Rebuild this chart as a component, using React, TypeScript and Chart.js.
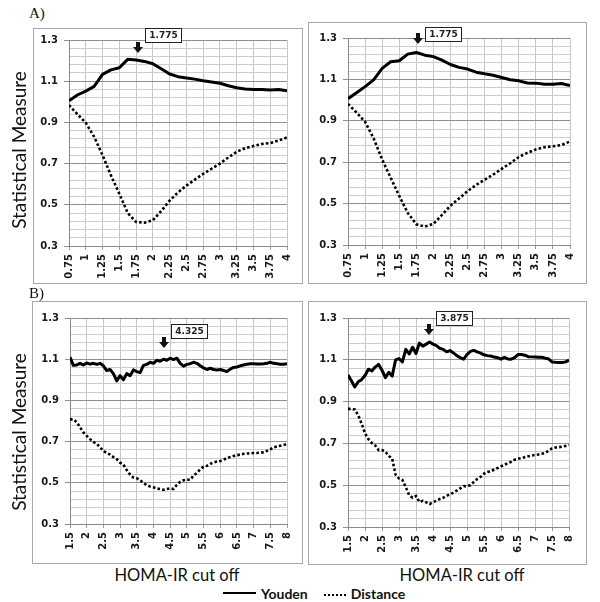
import React, { useEffect, useRef } from "react";
import { Chart, registerables } from "chart.js";

Chart.register(...registerables);

// ---------------- data ----------------
const cutoffsA = [0.75, 0.875, 1.0, 1.125, 1.25, 1.375, 1.5, 1.625, 1.75, 1.875, 2.0, 2.125, 2.25, 2.375, 2.5, 2.625, 2.75, 2.875, 3.0, 3.125, 3.25, 3.375, 3.5, 3.625, 3.75, 3.875, 4.0];
const youdenA1 = [1.005, 1.033, 1.052, 1.075, 1.133, 1.155, 1.165, 1.206, 1.203, 1.196, 1.185, 1.16, 1.135, 1.122, 1.116, 1.11, 1.102, 1.096, 1.09, 1.078, 1.068, 1.062, 1.06, 1.06, 1.057, 1.06, 1.054];
const distanceA1 = [0.984, 0.94, 0.898, 0.83, 0.741, 0.643, 0.554, 0.46, 0.417, 0.413, 0.425, 0.47, 0.52, 0.56, 0.593, 0.622, 0.65, 0.675, 0.7, 0.73, 0.757, 0.775, 0.785, 0.795, 0.8, 0.812, 0.827];
const youdenA2 = [1.007, 1.036, 1.065, 1.098, 1.153, 1.185, 1.19, 1.222, 1.23, 1.217, 1.21, 1.193, 1.172, 1.158, 1.15, 1.135, 1.127, 1.12, 1.109, 1.098, 1.093, 1.083, 1.082, 1.077, 1.077, 1.08, 1.07];
const distanceA2 = [0.982, 0.94, 0.895, 0.815, 0.713, 0.625, 0.537, 0.455, 0.4, 0.389, 0.402, 0.445, 0.49, 0.525, 0.56, 0.59, 0.615, 0.64, 0.668, 0.695, 0.725, 0.745, 0.762, 0.772, 0.777, 0.783, 0.8];

const cutoffsB = [1.5, 1.6, 1.7, 1.8, 1.9, 2.0, 2.1, 2.2, 2.3, 2.4, 2.5, 2.6, 2.7, 2.8, 2.9, 3.0, 3.1, 3.2, 3.3, 3.4, 3.5, 3.6, 3.7, 3.8, 3.9, 4.0, 4.1, 4.2, 4.3, 4.4, 4.5, 4.6, 4.7, 4.8, 4.9, 5.0, 5.1, 5.2, 5.3, 5.4, 5.5, 5.6, 5.7, 5.8, 5.9, 6.0, 6.1, 6.2, 6.3, 6.4, 6.5, 6.6, 6.7, 6.8, 6.9, 7.0, 7.1, 7.2, 7.3, 7.4, 7.5, 7.6, 7.7, 7.8, 7.9, 8.0];
const youdenB1 = [1.11, 1.07, 1.072, 1.08, 1.072, 1.082, 1.076, 1.08, 1.075, 1.08, 1.068, 1.045, 1.05, 1.03, 0.995, 1.02, 1.0, 1.03, 1.02, 1.048, 1.04, 1.035, 1.07, 1.075, 1.085, 1.08, 1.095, 1.09, 1.1, 1.095, 1.105, 1.098, 1.105, 1.08, 1.066, 1.075, 1.078, 1.085, 1.08, 1.068, 1.058, 1.05, 1.056, 1.05, 1.048, 1.05, 1.045, 1.04, 1.052, 1.06, 1.062, 1.068, 1.072, 1.076, 1.078, 1.078, 1.077, 1.077, 1.078, 1.08, 1.085, 1.08, 1.078, 1.076, 1.076, 1.078];
const distanceB1 = [0.808, 0.808, 0.795, 0.77, 0.745, 0.728, 0.712, 0.698, 0.69, 0.672, 0.655, 0.645, 0.637, 0.625, 0.615, 0.598, 0.588, 0.562, 0.54, 0.525, 0.522, 0.512, 0.5, 0.488, 0.482, 0.478, 0.472, 0.47, 0.466, 0.47, 0.473, 0.47, 0.49, 0.505, 0.512, 0.515, 0.515, 0.535, 0.548, 0.565, 0.578, 0.582, 0.592, 0.598, 0.603, 0.606, 0.612, 0.62, 0.625, 0.63, 0.634, 0.637, 0.641, 0.642, 0.643, 0.645, 0.645, 0.646, 0.648, 0.655, 0.662, 0.672, 0.676, 0.68, 0.683, 0.688];
const youdenB2 = [1.027, 1.0, 0.97, 0.995, 1.005, 1.025, 1.055, 1.047, 1.065, 1.078, 1.05, 1.015, 1.04, 1.022, 1.1, 1.106, 1.09, 1.15, 1.128, 1.16, 1.13, 1.18, 1.165, 1.175, 1.185, 1.175, 1.168, 1.155, 1.15, 1.138, 1.144, 1.133, 1.12, 1.11, 1.103, 1.125, 1.14, 1.145, 1.138, 1.132, 1.124, 1.12, 1.118, 1.113, 1.11, 1.103, 1.112, 1.104, 1.103, 1.11, 1.125, 1.125, 1.122, 1.115, 1.114, 1.113, 1.112, 1.112, 1.108, 1.104, 1.09, 1.088, 1.087, 1.087, 1.09, 1.098];
const distanceB2 = [0.865, 0.865, 0.862, 0.835, 0.795, 0.748, 0.72, 0.702, 0.69, 0.668, 0.668, 0.66, 0.64, 0.627, 0.55, 0.532, 0.525, 0.49, 0.452, 0.44, 0.448, 0.42, 0.425, 0.418, 0.41, 0.418, 0.426, 0.434, 0.44, 0.45, 0.455, 0.465, 0.474, 0.485, 0.495, 0.496, 0.5, 0.515, 0.53, 0.54, 0.555, 0.563, 0.566, 0.575, 0.582, 0.59, 0.598, 0.605, 0.612, 0.622, 0.626, 0.63, 0.634, 0.638, 0.642, 0.645, 0.647, 0.65, 0.655, 0.665, 0.676, 0.68, 0.682, 0.684, 0.688, 0.692];

const xTicksA = [0.75, 1, 1.25, 1.5, 1.75, 2, 2.25, 2.5, 2.75, 3, 3.25, 3.5, 3.75, 4];
const xTicksB = [1.5, 2, 2.5, 3, 3.5, 4, 4.5, 5, 5.5, 6, 6.5, 7, 7.5, 8];
const yTickLabels = [0.3, 0.5, 0.7, 0.9, 1.1, 1.3];
const yMin = 0.3;
const yMax = 1.3;
const yMinorStep = 0.04;
const optimalCutoffs = [1.775, 1.775, 4.325, 3.875];

const seriesNames = ["Youden", "Distance"];
const yAxisTitle = "Statistical Measure";
const xAxisTitle = "HOMA-IR cut off";
const panelLetters = ["A)", "B)"];

// ---------------- layout ----------------
type Box = { left: number; top: number; width: number; height: number };
type Plot = { left: number; top: number; right: number; bottom: number };
type PanelSpec = {
  box: Box;
  plot: Plot;
  cutoffs: number[];
  youden: number[];
  distance: number[];
  xTicks: number[];
  optimal: number;
  tipValue: number;
  gap: number;
};

const panels: PanelSpec[] = [
  { box: { left: 33, top: 28, width: 270, height: 256 }, plot: { left: 69, top: 40, right: 292, bottom: 246 }, cutoffs: cutoffsA, youden: youdenA1, distance: distanceA1, xTicks: xTicksA, optimal: optimalCutoffs[0], tipValue: 1.237, gap: 10 },
  { box: { left: 308, top: 22, width: 279, height: 262 }, plot: { left: 348, top: 38, right: 570, bottom: 245 }, cutoffs: cutoffsA, youden: youdenA2, distance: distanceA2, xTicks: xTicksA, optimal: optimalCutoffs[1], tipValue: 1.27, gap: 2 },
  { box: { left: 32, top: 301, width: 271, height: 263 }, plot: { left: 70, top: 318, right: 292, bottom: 524 }, cutoffs: cutoffsB, youden: youdenB1, distance: distanceB1, xTicks: xTicksB, optimal: optimalCutoffs[2], tipValue: 1.152, gap: 9 },
  { box: { left: 308, top: 301, width: 279, height: 264 }, plot: { left: 348, top: 318, right: 569, bottom: 527 }, cutoffs: cutoffsB, youden: youdenB2, distance: distanceB2, xTicks: xTicksB, optimal: optimalCutoffs[3], tipValue: 1.219, gap: 9 },
];

const isMajor = (v: number) => yTickLabels.some((t) => Math.abs(t - v) < 1e-6);

const peakMarker = {
  id: "peakMarker",
  afterDraw(chart: any, _args: any, opts: any) {
    const { ctx, scales } = chart;
    const x = Math.round(scales.x.getPixelForValue(opts.cutoff));
    const tip = Math.round(scales.y.getPixelForValue(opts.tipValue));
    const len = 11;
    ctx.save();
    ctx.fillStyle = "#111";
    ctx.fillRect(x - 2, tip - len, 4, len - 5);
    ctx.beginPath();
    ctx.moveTo(x - 5, tip - 6);
    ctx.lineTo(x + 5, tip - 6);
    ctx.lineTo(x, tip);
    ctx.closePath();
    ctx.fill();
    const label = opts.cutoff.toFixed(3);
    ctx.font = 'bold 9px "DejaVu Sans"';
    const w = Math.round(ctx.measureText(label).width + 9);
    const h = 15;
    const bx = x + 7;
    const by = tip - opts.gap - h;
    ctx.fillStyle = "#fff";
    ctx.fillRect(bx, by, w, h);
    ctx.strokeStyle = "#222";
    ctx.lineWidth = 1;
    ctx.strokeRect(bx + 0.5, by + 0.5, w - 1, h - 1);
    ctx.fillStyle = "#222";
    ctx.textAlign = "center";
    ctx.textBaseline = "middle";
    ctx.fillText(label, bx + w / 2, by + h / 2 + 0.5);
    ctx.restore();
  },
};

function Panel({ spec }: { spec: PanelSpec }) {
  const ref = useRef<HTMLCanvasElement>(null);
  useEffect(() => {
    const canvas = ref.current!;
    const { box, plot } = spec;
    const yTicks: number[] = [];
    for (let v = yMin; v <= yMax + 1e-9; v += yMinorStep) yTicks.push(+v.toFixed(2));
    const chart = new Chart(canvas, {
      type: "line",
      data: {
        datasets: [
          {
            label: seriesNames[0],
            data: spec.cutoffs.map((x, i) => ({ x, y: spec.youden[i] })),
            borderColor: "#000",
            borderWidth: 3,
            pointRadius: 0,
            tension: 0,
            borderJoinStyle: "round",
          },
          {
            label: seriesNames[1],
            data: spec.cutoffs.map((x, i) => ({ x, y: spec.distance[i] })),
            borderColor: "#000",
            borderWidth: 2.6,
            borderDash: [2.6, 2.2],
            pointRadius: 0,
            tension: 0,
          },
        ],
      },
      options: {
        responsive: false,
        animation: false,
        devicePixelRatio: 1,
        layout: {
          padding: {
            left: 0,
            top: plot.top - box.top,
            right: box.left + box.width - plot.right,
            bottom: 0,
          },
        },
        plugins: {
          legend: { display: false },
          tooltip: { enabled: false },
          // @ts-ignore
          peakMarker: { cutoff: spec.optimal, tipValue: spec.tipValue, gap: spec.gap },
        },
        scales: {
          x: {
            type: "linear",
            min: spec.xTicks[0],
            max: spec.xTicks[spec.xTicks.length - 1],
            afterBuildTicks: (axis: any) => {
              axis.ticks = spec.xTicks.map((v) => ({ value: v }));
            },
            afterFit: (scale: any) => {
              scale.height = box.top + box.height - plot.bottom;
            },
            ticks: {
              autoSkip: false,
              minRotation: 90,
              maxRotation: 90,
              padding: 4,
              color: "#1a1a1a",
              font: { family: '"DejaVu Sans"', size: 10, weight: "bold" },
              callback: (v: any) => String(+v),
            },
            grid: { color: "#c6c6c6", tickLength: 4, tickColor: "#9a9a9a", lineWidth: 1 },
            border: { color: "#8a8a8a", width: 1 },
          },
          y: {
            type: "linear",
            min: yMin,
            max: yMax,
            afterBuildTicks: (axis: any) => {
              axis.ticks = yTicks.map((v) => ({ value: v }));
            },
            afterFit: (scale: any) => {
              scale.width = plot.left - box.left;
            },
            ticks: {
              autoSkip: false,
              padding: 6,
              color: "#1a1a1a",
              font: { family: '"DejaVu Sans"', size: 10, weight: "bold" },
              callback: (v: any) => (isMajor(+v) ? (+v).toFixed(1) : ""),
            },
            grid: {
              color: (ctx: any) => (isMajor(ctx.tick?.value) ? "#8f8f8f" : "#cdcdcd"),
              tickColor: (ctx: any) => (isMajor(ctx.tick?.value) ? "#8f8f8f" : "rgba(0,0,0,0)"),
              tickLength: 5,
              lineWidth: 1,
            },
            border: { color: "#8a8a8a", width: 1 },
          },
        },
      },
      plugins: [peakMarker as any],
    } as any);
    return () => chart.destroy();
  }, [spec]);
  const { box } = spec;
  return (
    <>
      <div
        style={{
          position: "absolute",
          left: box.left,
          top: box.top,
          width: box.width - 2,
          height: box.height - 2,
          border: "1px solid #a8a8a8",
        }}
      />
      <canvas
        ref={ref}
        width={box.width}
        height={box.height}
        style={{ position: "absolute", left: box.left, top: box.top, width: box.width, height: box.height }}
      />
    </>
  );
}

export default function App() {
  return (
    <div
      style={{
        position: "fixed",
        left: 0,
        top: 0,
        width: 600,
        height: 602,
        background: "#fff",
        overflow: "hidden",
      }}
    >
      {panels.map((p, i) => (
        <Panel key={i} spec={p} />
      ))}
      <div style={{ position: "absolute", left: 29, top: 5, font: '15px "Liberation Serif", serif', lineHeight: "16px", color: "#111" }}>{panelLetters[0]}</div>
      <div style={{ position: "absolute", left: 29, top: 285, font: '15px "Liberation Serif", serif', lineHeight: "16px", color: "#111" }}>{panelLetters[1]}</div>
      {[150, 432].map((cy, i) => (
        <div
          key={"yt" + i}
          style={{
            position: "absolute",
            left: 18 - 100,
            top: cy - 11,
            width: 200,
            height: 22,
            lineHeight: "22px",
            textAlign: "center",
            font: '19px Lato, "Open Sans", sans-serif',
            color: "#111",
            transform: "rotate(-90deg)",
            whiteSpace: "nowrap",
          }}
        >
          {yAxisTitle}
        </div>
      ))}
      {[177, 462].map((cx, i) => (
        <div
          key={"xt" + i}
          style={{
            position: "absolute",
            left: cx - 100,
            top: 565,
            width: 200,
            height: 22,
            lineHeight: "22px",
            textAlign: "center",
            font: '16.5px Lato, "Open Sans", sans-serif',
            color: "#111",
            whiteSpace: "nowrap",
          }}
        >
          {xAxisTitle}
        </div>
      ))}
      <div
        style={{
          position: "absolute",
          left: 223,
          top: 585,
          height: 16,
          display: "flex",
          alignItems: "center",
          font: 'bold 14px Lato, "Open Sans", sans-serif',
          color: "#111",
          whiteSpace: "nowrap",
        }}
      >
        <span style={{ display: "inline-block", width: 33, borderTop: "2px solid #000", marginRight: 5 }} />
        <span>{seriesNames[0]}</span>
        <span style={{ display: "inline-block", width: 22, borderTop: "2.5px dotted #000", margin: "3px 5px 0 16px" }} />
        <span>{seriesNames[1]}</span>
      </div>
    </div>
  );
}
